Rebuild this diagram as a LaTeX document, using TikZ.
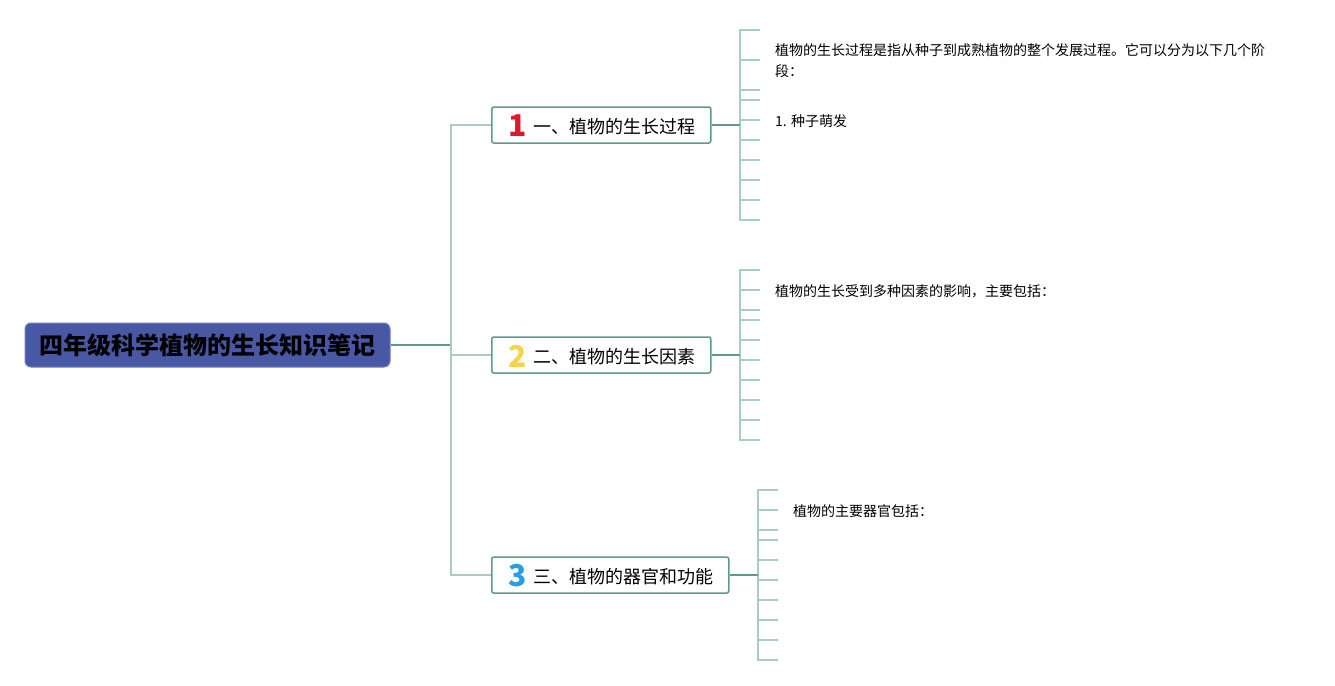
\documentclass[tikz,border=0pt]{standalone}
\usepackage{fontspec}
\setmainfont{Noto Sans CJK SC}
\usepackage{xcolor}
\usetikzlibrary{positioning}
\definecolor{rootblue}{HTML}{4858A5}
\definecolor{rootedge}{HTML}{6E7EC4}
\definecolor{linedark}{HTML}{5E9A8A}
\definecolor{linelight}{HTML}{A9CDC3}
\definecolor{numred}{HTML}{E0162B}
\definecolor{numyellow}{HTML}{F5D547}
\definecolor{numblue}{HTML}{2A9FE0}
\tikzset{
    rootbox/.style={draw=rootedge, fill=rootblue, rounded corners=6pt, line width=1pt,
        minimum width=365pt, minimum height=44pt, inner sep=0pt,
        font=\fontsize{24}{28}\selectfont\bfseries},
    branchbox/.style={draw=linedark, fill=white, rounded corners=2pt, line width=1.5pt,
        minimum height=36pt, inner sep=0pt, anchor=west},
    numtext/.style={font=\fontsize{30}{30}\selectfont\bfseries, inner sep=0pt},
    branchtext/.style={font=\fontsize{18}{20}\selectfont, inner sep=0pt, anchor=west},
    leaftext/.style={font=\fontsize{14}{21}\selectfont, inner sep=0pt, anchor=north west, align=left},
    trunkline/.style={linelight, line width=1.2pt},
    tickline/.style={linelight, line width=1.2pt},
    mainline/.style={linedark, line width=1.5pt}
}

\begin{document}
\begin{tikzpicture}[x=1pt, y=-1pt]
    \useasboundingbox (0,0) rectangle (1335,685);

    % root
    \node[rootbox] (root) at (207.5,345) {四年级科学植物的生长知识笔记};
    \coordinate (trunk) at (451,345);

    % branches
    \node[branchbox, minimum width=219pt] (b1) at (491,125) {};
    \node[numtext, text=numred] (n1) at (518,126) {1};
    \node[branchtext] (t1) at (533,127) {一、植物的生长过程};

    \node[branchbox, minimum width=219pt] (b2) at (491,355) {};
    \node[numtext, text=numyellow] (n2) at (518,356) {2};
    \node[branchtext] (t2) at (533,357) {二、植物的生长因素};

    \node[branchbox, minimum width=237pt] (b3) at (491,575) {};
    \node[numtext, text=numblue] (n3) at (518,576) {3};
    \node[branchtext] (t3) at (533,577) {三、植物的器官和功能};

    \draw[mainline] (root.east) -- (trunk);
    \draw[trunkline] (trunk) |- (b1.west);
    \draw[trunkline] (trunk) |- (b2.west);
    \draw[trunkline] (trunk) |- (b3.west);

    % leaf brackets
    \coordinate (k1) at (740,125);
    \coordinate (k2) at (740,355);
    \coordinate (k3) at (758,575);
    \foreach \y in {30,60,90,100,120,140,160,180,200,220}
        \draw[tickline] (k1) |- (760,\y);
    \foreach \y in {270,290,310,320,340,360,380,400,420,440}
        \draw[tickline] (k2) |- (760,\y);
    \foreach \y in {490,510,530,540,560,580,600,620,640,660}
        \draw[tickline] (k3) |- (778,\y);
    \draw[mainline] (b1.east) -- (k1);
    \draw[mainline] (b2.east) -- (k2);
    \draw[mainline] (b3.east) -- (k3);

    % leaf texts
    \node[leaftext] (l1) at (775,43) {植物的生长过程是指从种子到成熟植物的整个发展过程。它可以分为以下几个阶\\段：};
    \node[leaftext] (l2) at (775,114) {1. 种子萌发};
    \node[leaftext] (l3) at (775,284) {植物的生长受到多种因素的影响，主要包括：};
    \node[leaftext] (l4) at (793,504) {植物的主要器官包括：};
\end{tikzpicture}
\end{document}
